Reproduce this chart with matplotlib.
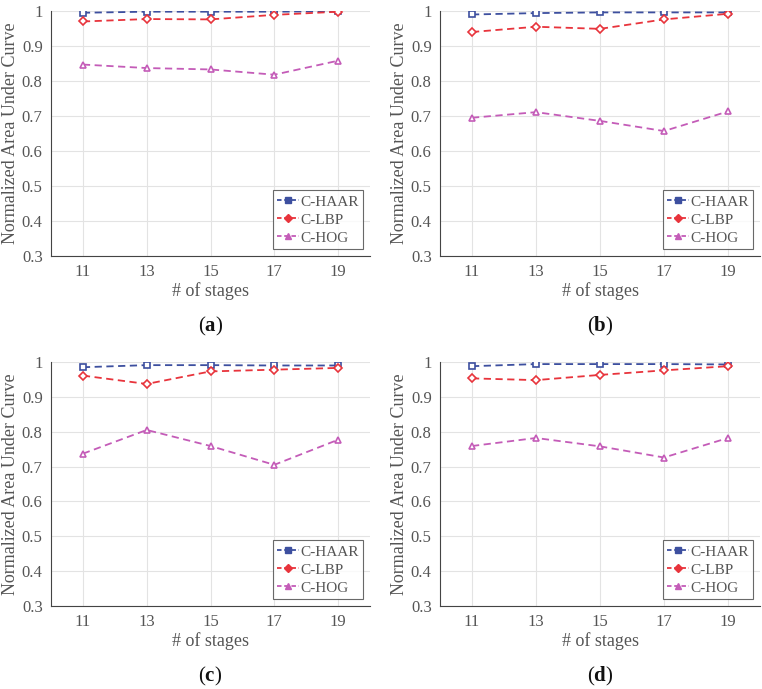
import matplotlib.pyplot as plt
from matplotlib.lines import Line2D

plt.rcParams['font.family'] = ['Liberation Serif', 'DejaVu Serif']
plt.rcParams['mathtext.fontset'] = 'custom'
plt.rcParams['mathtext.rm'] = 'Liberation Serif'
plt.rcParams['mathtext.bf'] = 'Liberation Serif:bold'

stages = [11, 13, 15, 17, 19]
panel_labels = ['a', 'b', 'c', 'd']

# AUC values per panel
haar_a = [0.995, 0.998, 0.998, 0.998, 0.999]
lbp_a = [0.970, 0.977, 0.976, 0.989, 0.998]
hog_a = [0.847, 0.837, 0.833, 0.818, 0.858]

haar_b = [0.990, 0.994, 0.996, 0.996, 0.996]
lbp_b = [0.940, 0.955, 0.949, 0.976, 0.992]
hog_b = [0.695, 0.711, 0.686, 0.657, 0.713]

haar_c = [0.985, 0.991, 0.991, 0.990, 0.990]
lbp_c = [0.961, 0.937, 0.973, 0.978, 0.983]
hog_c = [0.737, 0.805, 0.759, 0.705, 0.777]

haar_d = [0.988, 0.994, 0.994, 0.994, 0.993]
lbp_d = [0.953, 0.948, 0.963, 0.976, 0.988]
hog_d = [0.759, 0.782, 0.758, 0.726, 0.782]

panels = [(haar_a, lbp_a, hog_a), (haar_b, lbp_b, hog_b),
          (haar_c, lbp_c, hog_c), (haar_d, lbp_d, hog_d)]

names = ['C-HAAR', 'C-LBP', 'C-HOG']
colors = ['#3d4f9f', '#e8343c', '#c45cb8']
markers = ['s', 'D', '^']
msizes = [4, 4, 5]

text_color = '#555555'

W, H = 762, 689
fig = plt.figure(figsize=(W / 100, H / 100), dpi=100)

# axes boxes in pixels: left, top, right, bottom
boxes = [(51, 11, 370, 256), (440, 11, 760, 256),
         (51, 362, 370, 606), (440, 362, 760, 606)]

for i, (l, t, r, b) in enumerate(boxes):
    ax = fig.add_axes([l / W, 1 - b / H, (r - l) / W, (b - t) / H])
    for vals, name, c, m, ms in zip(panels[i], names, colors, markers, msizes):
        ax.plot(stages, vals, linestyle='--', color=c, marker=m, markersize=ms,
                markerfacecolor='white', markeredgecolor=c, markeredgewidth=1.2,
                linewidth=1.3, dashes=(4, 2.5))
    ax.set_xlim(10, 20)
    ax.set_ylim(0.3, 1.0)
    ax.set_xticks(stages)
    ax.set_yticks([0.3, 0.4, 0.5, 0.6, 0.7, 0.8, 0.9, 1.0])
    ax.set_yticklabels(['0.3', '0.4', '0.5', '0.6', '0.7', '0.8', '0.9', '1'])
    ax.grid(True, color='#e3e3e3', linewidth=0.8)
    ax.set_axisbelow(True)
    ax.spines['top'].set_visible(False)
    ax.spines['right'].set_visible(False)
    for s in ['left', 'bottom']:
        ax.spines[s].set_color('#444444')
        ax.spines[s].set_linewidth(0.8)
    ax.tick_params(length=0, labelsize=12, colors=text_color, pad=6)
    ax.set_xlabel('# of stages', fontsize=13, color=text_color, labelpad=1)
    ax.set_ylabel('Normalized Area Under Curve', fontsize=13, color=text_color, labelpad=2)

    # legend shows filled markers
    handles = [Line2D([], [], linestyle='--', color=c, marker=m, markersize=ms,
                      markerfacecolor=c, markeredgecolor=c, linewidth=1.3, dashes=(2.5, 1.5))
               for c, m, ms in zip(colors, markers, msizes)]
    leg = ax.legend(handles, names, loc='lower right', fontsize=11, frameon=True,
                    fancybox=False, edgecolor='#444444', handlelength=1.4,
                    handletextpad=0.1, borderpad=0.3, labelspacing=0.28,
                    borderaxespad=0.45)
    leg.get_frame().set_linewidth(0.8)
    for txt in leg.get_texts():
        txt.set_color(text_color)

    cx = (l + r) / 2
    fig.text(cx / W, 1 - (b + 70) / H,
             r'$\mathrm{(}\mathbf{' + panel_labels[i] + r'}\mathrm{)}$',
             fontsize=15, ha='center', va='center', color='#111111')

fig.savefig('out.png', dpi=100)
